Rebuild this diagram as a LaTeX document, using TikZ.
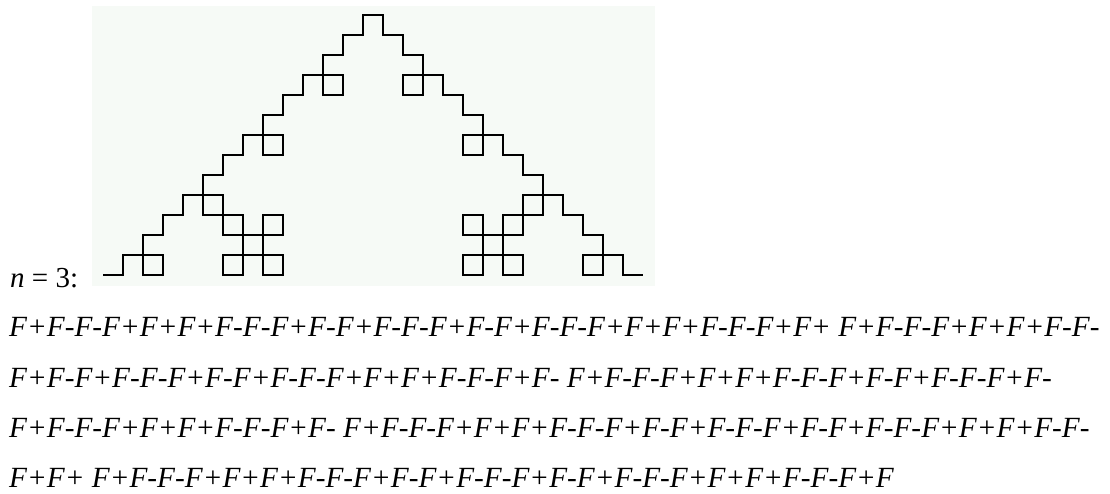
\documentclass[tikz,border=0pt]{standalone}
\usepackage{fontspec}
\setmainfont{Liberation Serif}
\usetikzlibrary{lindenmayersystems}
\definecolor{plotbg}{RGB}{246,250,246}
\pgfdeclarelindenmayersystem{quadkoch}{\rule{F -> F+F-F-F+F}}
\begin{document}
\begin{tikzpicture}[x=1pt, y=1pt,
  linea/.style={anchor=base west, inner sep=0pt, font=\fontsize{29.3}{35}\selectfont\itshape},
  curva/.style={draw=black, line width=2.2pt, line join=miter}
]
\useasboundingbox (0,0) rectangle (1110,493);
\fill[plotbg] (92,207) rectangle (655,487);

% the curve, order 3
\begin{scope}[shift={(103,218)}]
\draw[curva, lindenmayer system={quadkoch, axiom=F, order=3, step=20pt, angle=90}]
  lindenmayer system;
\end{scope}

\node[linea, font=\fontsize{29}{35}\selectfont] (orden) at (10,206) {\textit{n} = 3:};

\node[linea] (l1) at (9,157) {F+F-F-F+F+F+F-F-F+F-F+F-F-F+F-F+F-F-F+F+F+F-F-F+F+ F+F-F-F+F+F+F-F-};
\node[linea] (l2) at (9,106) {F+F-F+F-F-F+F-F+F-F-F+F+F+F-F-F+F- F+F-F-F+F+F+F-F-F+F-F+F-F-F+F-};
\node[linea] (l3) at (9,56) {F+F-F-F+F+F+F-F-F+F- F+F-F-F+F+F+F-F-F+F-F+F-F-F+F-F+F-F-F+F+F+F-F-};
\node[linea] (l4) at (9,6) {F+F+ F+F-F-F+F+F+F-F-F+F-F+F-F-F+F-F+F-F-F+F+F+F-F-F+F};
\end{tikzpicture}
\end{document}
